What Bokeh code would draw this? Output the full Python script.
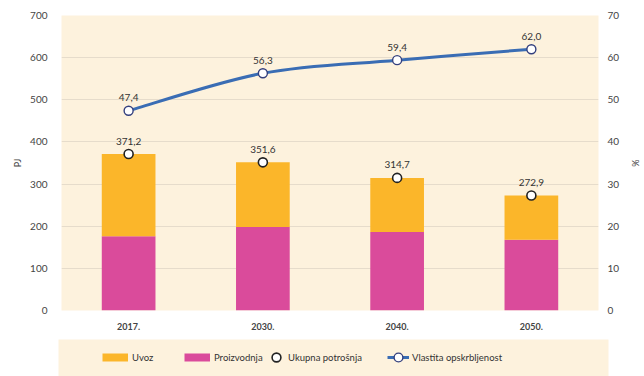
from bokeh.plotting import figure
from bokeh.models import (ColumnDataSource, Range1d, LinearAxis, FixedTicker,
                          Legend, LegendItem, Spacer)
from bokeh.layouts import column, row
from bokeh.core.properties import value
from bokeh.embed import file_html
from bokeh.resources import INLINE

# ---- data ----
years = ["2017.", "2030.", "2040.", "2050."]
proizvodnja = [176, 198, 186, 168]
ukupna_potrosnja = [371.2, 351.6, 314.7, 272.9]
uvoz = [round(t - p, 1) for t, p in zip(ukupna_potrosnja, proizvodnja)]
oskrbljenost = [47.4, 56.3, 59.4, 62.0]
pj_ticks = [0, 100, 200, 300, 400, 500, 600, 700]
pct_ticks = [0, 10, 20, 30, 40, 50, 60, 70]

# ---- styles ----
FONT = "Lato"
C_UVOZ = "#fbb62a"
C_PROIZ = "#da4b9b"
C_LINE = "#3a6db4"
C_MARK_LINE = "#34407e"
BEIGE = "#fdf2dd"
GRID = "#e6dccb"
TXT = "#444444"

xs = list(range(len(years)))
fmt = lambda v: f"{v:.1f}".replace(".", ",")

src = ColumnDataSource(dict(
    x=xs, proizvodnja=proizvodnja, uvoz=uvoz, total=ukupna_potrosnja,
    total_lbl=[fmt(v) for v in ukupna_potrosnja],
    pct=oskrbljenost, pct_lbl=[fmt(v) for v in oskrbljenost],
))

p = figure(width=635, height=339, output_backend="svg", toolbar_location=None,
           x_range=Range1d(-0.5, len(years) - 0.5), y_range=Range1d(0, 700),
           min_border_left=49, min_border_right=36, min_border_top=15,
           min_border_bottom=29)
p.extra_y_ranges = {"pct": Range1d(0, 70)}
p.background_fill_color = BEIGE
p.border_fill_color = "white"
p.outline_line_color = None

# bars
p.vbar_stack(["proizvodnja", "uvoz"], x="x", width=0.4, source=src,
             color=[C_PROIZ, C_UVOZ], line_color=None)

# smooth line (Catmull-Rom style bezier through data points)
n = len(xs)
bx0, by0, bx1, by1, bcx0, bcy0, bcx1, bcy1 = ([] for _ in range(8))
for i in range(n - 1):
    im1 = max(i - 1, 0)
    ip2 = min(i + 2, n - 1)
    bx0.append(xs[i]); by0.append(oskrbljenost[i])
    bx1.append(xs[i + 1]); by1.append(oskrbljenost[i + 1])
    bcx0.append(xs[i] + (xs[i + 1] - xs[im1]) / 6)
    bcy0.append(oskrbljenost[i] + (oskrbljenost[i + 1] - oskrbljenost[im1]) / 6)
    bcx1.append(xs[i + 1] - (xs[ip2] - xs[i]) / 6)
    bcy1.append(oskrbljenost[i + 1] - (oskrbljenost[ip2] - oskrbljenost[i]) / 6)
p.bezier(x0=bx0, y0=by0, x1=bx1, y1=by1, cx0=bcx0, cy0=bcy0, cx1=bcx1, cy1=bcy1,
         line_color=C_LINE, line_width=3, y_range_name="pct")

# markers
p.scatter("x", "total", source=src, marker="circle", size=9, fill_color="white",
          line_color="#222222", line_width=1.6)
p.scatter("x", "pct", source=src, marker="circle", size=9, fill_color="white",
          line_color=C_MARK_LINE, line_width=1.4, y_range_name="pct")

# data labels
p.text("x", "total", text="total_lbl", source=src, y_offset=-13,
       text_align="center", text_baseline="middle", text_font=value(FONT),
       text_font_size="10px", text_color="#333333")
p.text("x", "pct", text="pct_lbl", source=src, y_offset=-13, y_range_name="pct",
       text_align="center", text_baseline="middle", text_font=value(FONT),
       text_font_size="10px", text_color="#333333")

# axes
p.xaxis.ticker = FixedTicker(ticks=xs)
p.xaxis.major_label_overrides = {i: y for i, y in enumerate(years)}
p.xaxis.major_label_text_font = FONT
p.xaxis.major_label_text_font_size = "9px"
p.xaxis.major_label_text_font_style = "bold"
p.xaxis.major_label_text_color = TXT
p.xaxis.major_label_standoff = 6
p.xaxis.axis_line_color = None
p.xaxis.major_tick_line_color = None
p.xaxis.minor_tick_line_color = None

p.yaxis.ticker = FixedTicker(ticks=pj_ticks)
p.yaxis.axis_label = "PJ"
p.yaxis.axis_label_text_font = FONT
p.yaxis.axis_label_text_font_size = "9px"
p.yaxis.axis_label_text_font_style = "normal"
p.yaxis.axis_label_text_color = TXT
p.yaxis.axis_label_standoff = 4
p.yaxis.major_label_text_font = FONT
p.yaxis.major_label_text_font_size = "10px"
p.yaxis.major_label_text_color = TXT
p.yaxis.major_label_standoff = 8
p.yaxis.axis_line_color = None
p.yaxis.major_tick_line_color = None
p.yaxis.minor_tick_line_color = None

ax_r = LinearAxis(y_range_name="pct", ticker=FixedTicker(ticks=pct_ticks),
                  axis_label="%")
ax_r.axis_label_text_font = FONT
ax_r.axis_label_text_font_size = "9px"
ax_r.axis_label_text_font_style = "normal"
ax_r.axis_label_text_color = TXT
ax_r.axis_label_standoff = 8
ax_r.major_label_text_font = FONT
ax_r.major_label_text_font_size = "10px"
ax_r.major_label_text_color = TXT
ax_r.major_label_standoff = 3
ax_r.axis_line_color = None
ax_r.major_tick_line_color = None
ax_r.minor_tick_line_color = None
p.add_layout(ax_r, "right")

p.xgrid.grid_line_color = None
p.ygrid.ticker = FixedTicker(ticks=pj_ticks)
p.ygrid.grid_line_color = GRID
p.ygrid.grid_line_width = 1.2

# ---- legend panel ----
lf = figure(width=644, height=37, output_backend="svg", toolbar_location=None,
            x_range=Range1d(0, 1), y_range=Range1d(0, 1),
            min_border=0, min_border_left=58, min_border_right=36)
lf.axis.visible = False
lf.grid.visible = False
lf.background_fill_color = BEIGE
lf.border_fill_color = "white"
lf.outline_line_color = None

nan = float("nan")
def dummy():
    return ColumnDataSource(dict(x=[nan], y=[nan]))

r_uvoz = lf.line(x="x", y="y", source=dummy(), line_color=C_UVOZ,
                 line_width=8, line_cap="butt")
r_proiz = lf.line(x="x", y="y", source=dummy(), line_color=C_PROIZ,
                  line_width=8, line_cap="butt")
r_tot = lf.scatter(x="x", y="y", source=dummy(), marker="circle",
                   size=9, fill_color="white", line_color="#222222", line_width=1.6)
r_ln = lf.line(x="x", y="y", source=dummy(), line_color=C_LINE, line_width=3)
r_lm = lf.scatter(x="x", y="y", source=dummy(), marker="circle",
                  size=9, fill_color="white", line_color=C_MARK_LINE, line_width=1.4)

def mk_legend(label, renderers, x, gw, standoff):
    lg = Legend(items=[LegendItem(label=label, renderers=renderers)],
                location=(x, 8), orientation="horizontal",
                glyph_width=gw, glyph_height=22, label_standoff=standoff,
                padding=0, margin=0, spacing=0,
                background_fill_alpha=0, border_line_color=None,
                label_text_font=FONT, label_text_font_size="9.5px",
                label_text_color="#333333", label_height=22)
    lf.add_layout(lg)

mk_legend("Uvoz", [r_uvoz], 44, 26, 4)
mk_legend("Proizvodnja", [r_proiz], 126, 26, 4)
mk_legend("Ukupna potrošnja", [r_tot], 207, 22, 1)
mk_legend("Vlastita opskrbljenost", [r_ln, r_lm], 329, 22, 3)

layout = column(row(Spacer(width=9, height=339), p, spacing=0), lf, spacing=0)
open("out.html", "w").write(file_html(layout, INLINE))
